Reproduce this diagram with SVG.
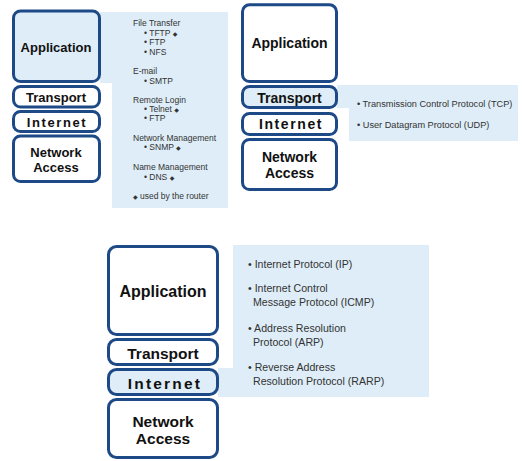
<svg xmlns="http://www.w3.org/2000/svg" width="522" height="461" viewBox="0 0 522 461">
<style>
.box{fill:#ffffff;stroke:#1d4a86;stroke-width:3}
.sel{fill:#deedf7}
.panel{fill:#deedf7;stroke:none}
.lbl{font-family:"Liberation Sans",Arial,sans-serif;font-weight:bold;fill:#111;text-anchor:middle}
.sp{letter-spacing:1.6px}
.t1{font-family:"Liberation Sans",Arial,sans-serif;font-size:8.5px;fill:#333}
.t2{font-family:"Liberation Sans",Arial,sans-serif;font-size:9.2px;fill:#333}
.t3{font-family:"Liberation Sans",Arial,sans-serif;font-size:10.6px;fill:#333}
.dia{font-family:"DejaVu Sans",sans-serif;font-size:6px}
</style>
<rect width="522" height="461" fill="#ffffff"/>

<!-- Panels -->
<g id="panel1">
<rect class="panel" x="100" y="12" width="128" height="71"/>
<rect class="panel" x="112" y="12" width="116" height="196"/>
<text class="t1" x="133" y="26">File Transfer</text>
<text class="t1" x="144" y="36">• TFTP <tspan class="dia">◆</tspan></text>
<text class="t1" x="144" y="45">• FTP</text>
<text class="t1" x="144" y="55">• NFS</text>
<text class="t1" x="133" y="74">E-mail</text>
<text class="t1" x="144" y="84">• SMTP</text>
<text class="t1" x="133" y="103">Remote Login</text>
<text class="t1" x="144" y="112">• Telnet <tspan class="dia">◆</tspan></text>
<text class="t1" x="144" y="121">• FTP</text>
<text class="t1" x="133" y="141">Network Management</text>
<text class="t1" x="144" y="150">• SNMP <tspan class="dia">◆</tspan></text>
<text class="t1" x="133" y="170">Name Management</text>
<text class="t1" x="144" y="180">• DNS <tspan class="dia">◆</tspan></text>
<text class="t1" x="133" y="199"><tspan class="dia">◆</tspan> used by the router</text>
</g>

<g id="panel2">
<rect class="panel" x="337" y="85" width="14" height="23"/>
<rect class="panel" x="349" y="85" width="169" height="56"/>
<text class="t2" x="357" y="107">• Transmission Control Protocol (TCP)</text>
<text class="t2" x="357" y="128">• User Datagram Protocol (UDP)</text>
</g>

<g id="panel3">
<rect class="panel" x="218" y="368" width="17" height="29"/>
<rect class="panel" x="233" y="245" width="196" height="152"/>
<text class="t3" x="248" y="268">• Internet Protocol (IP)</text>
<text class="t3" x="248" y="292">• Internet Control</text>
<text class="t3" x="253" y="306">Message Protocol (ICMP)</text>
<text class="t3" x="248" y="332">• Address Resolution</text>
<text class="t3" x="253" y="346">Protocol (ARP)</text>
<text class="t3" x="248" y="371">• Reverse Address</text>
<text class="t3" x="253" y="385">Resolution Protocol (RARP)</text>
</g>

<!-- Stack 1 -->
<g id="s1-application">
<rect class="box sel" x="13.5" y="11" width="86" height="70.5" rx="7"/>
<text class="lbl" x="56" y="51.5" font-size="13">Application</text>
</g>
<g id="s1-transport">
<rect class="box" x="13.5" y="86.5" width="86" height="20.5" rx="7"/>
<text class="lbl" x="56" y="101.5" font-size="13">Transport</text>
</g>
<g id="s1-internet">
<rect class="box" x="13.5" y="111.5" width="86" height="20" rx="7"/>
<text class="lbl sp" x="57" y="126.5" font-size="13">Internet</text>
</g>
<g id="s1-network">
<rect class="box" x="13.5" y="136" width="86" height="45.5" rx="7"/>
<text class="lbl" x="56" y="157" font-size="13">Network</text>
<text class="lbl" x="56" y="171.5" font-size="13">Access</text>
</g>

<!-- Stack 2 -->
<g id="s2-application">
<rect class="box" x="242.5" y="4.8" width="94" height="76.7" rx="7"/>
<text class="lbl" x="289.5" y="48" font-size="14">Application</text>
</g>
<g id="s2-transport">
<rect class="box sel" x="242.5" y="86.5" width="94" height="21" rx="7"/>
<text class="lbl" x="289.5" y="102.5" font-size="14">Transport</text>
</g>
<g id="s2-internet">
<rect class="box" x="242.5" y="113.5" width="94" height="21" rx="7"/>
<text class="lbl sp" x="291" y="129" font-size="14">Internet</text>
</g>
<g id="s2-network">
<rect class="box" x="242.5" y="139.5" width="94" height="50" rx="7"/>
<text class="lbl" x="289.5" y="162" font-size="14">Network</text>
<text class="lbl" x="289.5" y="178" font-size="14">Access</text>
</g>

<!-- Stack 3 -->
<g id="s3-application">
<rect class="box" x="108.5" y="246.5" width="109" height="88" rx="8"/>
<text class="lbl" x="163" y="297" font-size="16">Application</text>
</g>
<g id="s3-transport">
<rect class="box" x="108.5" y="339.5" width="109" height="25" rx="8"/>
<text class="lbl" x="163" y="358.5" font-size="15.5">Transport</text>
</g>
<g id="s3-internet">
<rect class="box sel" x="108.5" y="369.5" width="109" height="25" rx="8"/>
<text class="lbl" x="165" y="389" font-size="15.5" letter-spacing="2.2">Internet</text>
</g>
<g id="s3-network">
<rect class="box" x="108.5" y="399.5" width="109" height="58" rx="8"/>
<text class="lbl" x="163" y="426.5" font-size="15.5">Network</text>
<text class="lbl" x="163" y="444" font-size="15.5">Access</text>
</g>
<g id="connectors"/>
</svg>
